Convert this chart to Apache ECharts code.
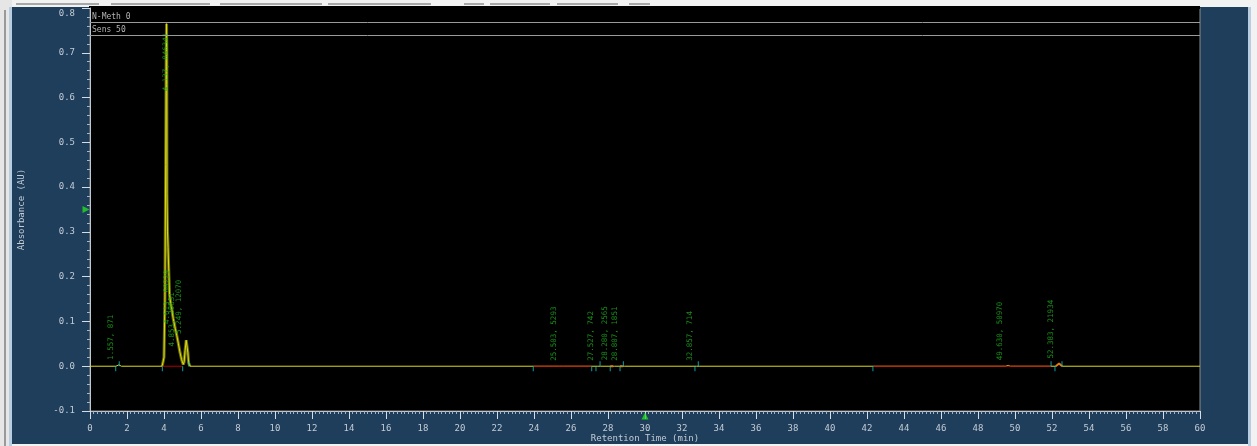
<!DOCTYPE html>
<html>
<head>
<meta charset="utf-8">
<script src="https://cdn.jsdelivr.net/npm/echarts@6/dist/echarts.min.js"></script>
<style>
  html, body { margin: 0; padding: 0; background: #f2f2f2; overflow: hidden; }
  #frame { position: absolute; left: 0; top: 0; width: 1257px; height: 446px; }
  #leftStrip { position: absolute; left: 0; top: 0; width: 12px; height: 446px; background: #e6e6e6; }
  #leftStrip .bar { position: absolute; left: 4px; top: 10px; width: 2px; height: 436px; background: #9a9a9a; }
  #leftStrip .edge { position: absolute; left: 9px; top: 7px; width: 3px; height: 439px; background: #b9cde0; }
  #panel { position: absolute; left: 12px; top: 7px; width: 1236px; height: 437px; background: #1f3e5c; }
  #rightEdge { position: absolute; left: 1248px; top: 7px; width: 3px; height: 439px; background: #b9cde0; }
  .tab { position: absolute; top: 3px; height: 2px; background: #a8a8a8; }
  #chart { position: absolute; left: 0; top: 0; width: 1257px; height: 446px; }
</style>
</head>
<body>
<div id="frame">
  <div id="leftStrip"><div class="bar"></div><div class="edge"></div></div>
  <div id="panel"></div>
  <div id="rightEdge"></div>
  <div class="tab" style="left:16px;width:83px"></div>
  <div class="tab" style="left:111px;width:99px"></div>
  <div class="tab" style="left:220px;width:102px"></div>
  <div class="tab" style="left:328px;width:103px"></div>
  <div class="tab" style="left:464px;width:20px"></div>
  <div class="tab" style="left:490px;width:60px"></div>
  <div class="tab" style="left:557px;width:61px"></div>
  <div class="tab" style="left:629px;width:21px"></div>
  <div id="chart"></div>
</div>
<script>
// Detector trace: retention time (min) and absorbance (AU)
const traceTime = [0, 1.40, 1.50, 1.557, 1.62, 1.70,
  3.90, 3.95, 4.00, 4.05, 4.09, 4.12, 4.137, 4.15, 4.16, 4.19, 4.22, 4.26, 4.30, 4.36,
  4.43, 4.50, 4.613, 4.69, 4.78, 4.853, 4.95, 5.04, 5.09, 5.14, 5.20, 5.249, 5.29, 5.33, 5.40,
  25.40, 25.503, 25.60, 27.45, 27.527, 27.60, 28.20, 28.28, 28.36, 28.73, 28.807, 28.88,
  32.78, 32.857, 32.93, 49.50, 49.63, 49.75, 52.20, 52.383, 52.55, 60];
const traceAbs = [0, 0, 0.002, 0.003, 0.001, 0,
  0, 0.004, 0.02, 0.15, 0.45, 0.70, 0.765, 0.70, 0.385, 0.30, 0.265, 0.21, 0.16, 0.14,
  0.125, 0.106, 0.083, 0.069, 0.05, 0.033, 0.015, 0.004, 0.01, 0.035, 0.058, 0.061, 0.03, 0.008, 0,
  0, 0.001, 0, 0, 0.001, 0, 0, 0.002, 0, 0, 0.001, 0,
  0, 0.001, 0, 0, 0.002, 0, 0, 0.006, 0, 0];

// Integrated peaks: retention time and area
const peakTimes = [1.557, 4.137, 4.613, 4.853, 5.249, 25.503, 27.527, 28.280, 28.807, 32.857, 49.630, 52.383];
const peakAreas = [871, 846341, 60229, 20631, 12070, 5293, 742, 2565, 1851, 714, 50970, 21934];

// Integration baselines (start, end in min)
const baselineSegments = [[3.91, 5.01], [23.96, 27.12], [42.32, 51.95]];
// Peak start / end marks (min)
const peakStarts = [1.39, 3.91, 5.01, 23.96, 27.12, 27.35, 28.12, 28.65, 32.70, 42.32, 52.16];
const peakEnds = [1.58, 5.35, 27.57, 28.83, 32.88, 51.95, 52.54];
// Small filled peak segments
const fillTime = [28.12, 28.20, 28.28, 28.65, 28.72, 28.80, 52.20, 52.30, 52.383, 52.47, 52.55];
const fillAbs = [0, 0.003, 0, 0, 0.003, 0, 0, 0.004, 0.006, 0.004, 0];

// Axis ranges and cursor marks
const xMin = 0, xMax = 60, xStep = 2;
const yMin = -0.1, yMax = 0.8, yStep = 0.1;
const cursorAbs = 0.35, cursorTime = 30;

const mono = "'DejaVu Sans Mono', 'Liberation Mono', monospace";
const axisGrey = '#c3ccd4';

const trace = traceTime.map((t, i) => [t, traceAbs[i]]);
const peakCluster = trace.filter(p => p[0] >= 3.85 && p[0] <= 5.45);

const baselineData = [];
baselineSegments.forEach(s => { baselineData.push([s[0], 0], [s[1], 0], [s[1], '-']); });

const fillData = [];
fillTime.forEach((t, i) => {
  fillData.push([t, fillAbs[i]]);
  if (i < fillTime.length - 1 && fillAbs[i] === 0 && i > 0 && fillTime[i + 1] - t > 0.2) fillData.push([t, '-']);
});

// Peak labels sit on each apex; the tallest one hangs down from its apex
const heightAt = t => { const k = traceTime.indexOf(t); return k >= 0 ? traceAbs[k] : 0; };
const topIdx = peakTimes.reduce((b, t, i) => heightAt(t) > heightAt(peakTimes[b]) ? i : b, 0);
const labelText = i => peakTimes[i].toFixed(3) + ', ' + peakAreas[i];

const lowLabels = peakTimes.map((t, i) => i === topIdx ? null : { value: [t, heightAt(t)], name: labelText(i) }).filter(Boolean);
const topLabels = [{ value: [peakTimes[topIdx], heightAt(peakTimes[topIdx])], name: labelText(topIdx) }];

const labelFont = { fontFamily: mono, fontSize: 7.5, color: '#1eb01e' };

const chart = echarts.init(document.getElementById('chart'), null, { renderer: 'canvas' });

chart.setOption({
  animation: false,
  backgroundColor: 'transparent',
  grid: {
    left: 90, right: 57, top: 8, bottom: 35, outerBoundsMode: 'none', containLabel: false,
    show: true, backgroundColor: '#000000', borderColor: '#8c8c8c', borderWidth: 1
  },
  graphic: [
    { type: 'rect', z: 0, shape: { x: 89, y: 6, width: 1111, height: 3 }, style: { fill: '#000' } },
    { type: 'line', z: 10, shape: { x1: 90, y1: 22.5, x2: 1200, y2: 22.5 }, style: { stroke: '#9a9a9a', lineWidth: 1 } },
    { type: 'line', z: 10, shape: { x1: 90, y1: 35.5, x2: 1200, y2: 35.5 }, style: { stroke: '#9a9a9a', lineWidth: 1 } },
    { type: 'text', z: 10, x: 92, y: 13, style: { text: 'N-Meth 0', fill: '#b4b4b4', font: "8px 'DejaVu Sans Mono', monospace" } },
    { type: 'text', z: 10, x: 92, y: 26, style: { text: 'Sens 50', fill: '#b4b4b4', font: "8px 'DejaVu Sans Mono', monospace" } }
  ],
  xAxis: {
    type: 'value', min: xMin, max: xMax, interval: xStep,
    name: 'Retention Time (min)', nameLocation: 'middle', nameGap: 23, nameMoveOverlap: false,
    nameTextStyle: { color: axisGrey, fontFamily: mono, fontSize: 9 },
    axisLine: { onZero: false, lineStyle: { color: '#bfc6cc', width: 1 } },
    axisTick: { show: true, length: 8, lineStyle: { color: '#d6dce2' } },
    minorTick: { show: true, splitNumber: 10, length: 3, lineStyle: { color: '#aab4be' } },
    axisLabel: { color: axisGrey, fontFamily: mono, fontSize: 9, margin: 13 },
    splitLine: { show: false }
  },
  yAxis: {
    type: 'value', min: yMin, max: yMax, interval: yStep,
    name: 'Absorbance (AU)', nameLocation: 'middle', nameGap: 64, nameMoveOverlap: false,
    nameTextStyle: { color: axisGrey, fontFamily: mono, fontSize: 9 },
    axisLine: { show: true, onZero: false, lineStyle: { color: '#bfc6cc', width: 1 } },
    axisTick: { show: true, length: 8, lineStyle: { color: '#d6dce2' } },
    minorTick: { show: true, splitNumber: 5, length: 3, lineStyle: { color: '#aab4be' } },
    axisLabel: {
      color: axisGrey, fontFamily: mono, fontSize: 9, margin: 15,
      formatter: v => {
        const s = (Math.round(v * 10) / 10).toFixed(1);
        return Math.abs(v - yMax) < 1e-9 ? '{top|' + s + '}' : s;
      },
      rich: { top: { color: axisGrey, fontFamily: mono, fontSize: 9, padding: [11, 0, 0, 0] } }
    },
    splitLine: { show: false }
  },
  series: [
    {
      type: 'line', data: peakCluster, showSymbol: false, silent: true, z: 2,
      lineStyle: { color: '#6e6e00', width: 3 }
    },
    {
      type: 'line', data: trace, showSymbol: false, silent: true, z: 3,
      lineStyle: { color: '#dada1e', width: 1 }
    },
    {
      type: 'line', data: baselineData, showSymbol: false, silent: true, z: 4, connectNulls: false,
      lineStyle: { color: '#b80000', width: 1 }
    },
    {
      type: 'line', data: fillData, showSymbol: false, silent: true, z: 4, connectNulls: false,
      lineStyle: { color: '#e07a10', width: 2 }
    },
    {
      type: 'scatter', data: peakStarts.map(t => [t, 0]), symbol: 'rect', symbolSize: [1, 5],
      symbolOffset: [0, 2.5], silent: true, z: 5, itemStyle: { color: '#10c4d4' }
    },
    {
      type: 'scatter', data: peakEnds.map(t => [t, 0]), symbol: 'rect', symbolSize: [1, 5],
      symbolOffset: [0, -2.5], silent: true, z: 5, itemStyle: { color: '#10c4d4' }
    },
    {
      type: 'scatter', data: lowLabels, symbolSize: 0, silent: true, z: 6,
      label: Object.assign({
        show: true, formatter: p => p.name, rotate: 90, position: [-4, -5],
        align: 'left', verticalAlign: 'bottom'
      }, labelFont)
    },
    {
      type: 'scatter', data: topLabels, symbolSize: 0, silent: true, z: 6,
      label: Object.assign({
        show: true, formatter: p => p.name, rotate: 90, position: [4, 9],
        align: 'right', verticalAlign: 'bottom'
      }, labelFont)
    },
    {
      type: 'scatter', clip: false, silent: true, z: 7,
      data: [
        { value: [xMin, cursorAbs], symbolRotate: -90, symbolOffset: [-4, 0] },
        { value: [cursorTime, yMin], symbolRotate: 0, symbolOffset: [0, 5] }
      ],
      symbol: 'triangle', symbolSize: [7, 7], itemStyle: { color: '#22dd22' }
    }
  ]
});
</script>
</body>
</html>
